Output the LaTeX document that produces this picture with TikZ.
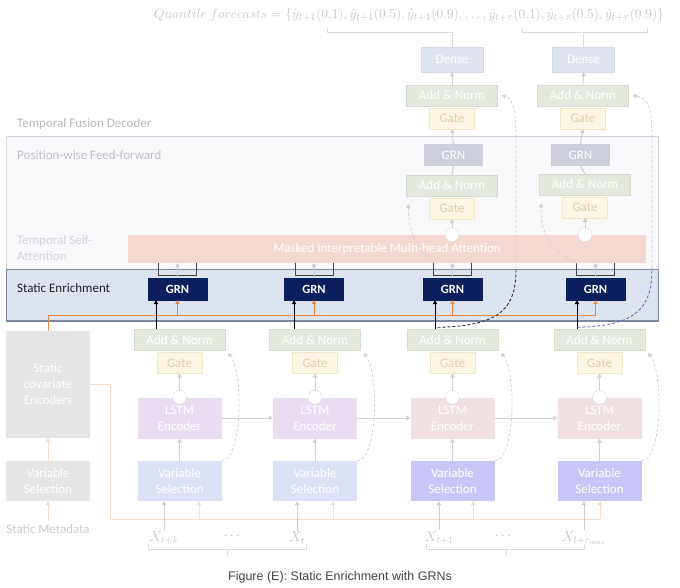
\documentclass[tikz,border=0pt]{standalone}
\usepackage{fontspec}
\setmainfont{Carlito}
\newfontfamily\capfont{Liberation Sans}
\usetikzlibrary{arrows.meta,positioning}

\definecolor{anfill}{HTML}{E4E9E0}
\definecolor{anline}{HTML}{D6DDD0}
\definecolor{gatefill}{HTML}{FDF6E3}
\definecolor{gateline}{HTML}{F1E6C8}
\definecolor{gatetext}{HTML}{E0D0AC}
\definecolor{densefill}{HTML}{DFE4EF}
\definecolor{denseline}{HTML}{D4DAE8}
\definecolor{grnmfill}{HTML}{CDCFDD}
\definecolor{attnfill}{HTML}{F6D8D3}
\definecolor{outerfill}{HTML}{F9F9FC}
\definecolor{outerline}{HTML}{D3D5DD}
\definecolor{bandfill}{HTML}{DEE3F0}
\definecolor{bandline}{HTML}{7D88A3}
\definecolor{navy}{HTML}{0B1F5E}
\definecolor{lstmA}{HTML}{E9DDF1}
\definecolor{lstmB}{HTML}{EFE0E2}
\definecolor{vsA}{HTML}{DCE2F4}
\definecolor{vsB}{HTML}{C8C5F7}
\definecolor{statfill}{HTML}{E5E5E5}
\definecolor{orange}{HTML}{E8894A}
\definecolor{ofaint}{HTML}{F9DCC8}
\definecolor{arrgray}{HTML}{CFCFCF}
\definecolor{dashgray}{HTML}{D2D2D2}
\definecolor{purp}{HTML}{7B68C2}
\definecolor{circline}{HTML}{D9D9D9}
\definecolor{brkline}{HTML}{DADDE8}
\definecolor{formtext}{HTML}{C4C4C4}
\definecolor{xtext}{HTML}{C4C4C4}
\definecolor{captext}{HTML}{444444}

\begin{document}
\begin{tikzpicture}[x=1pt,y=-1pt,font=\fontsize{13}{16}\selectfont,
  box/.style={draw,inner sep=0pt,text=white,align=center},
  addnorm/.style={box,fill=anfill,draw=anline,minimum width=91pt,minimum height=21pt},
  gatebox/.style={box,fill=gatefill,draw=gateline,text=gatetext,minimum width=45pt,minimum height=21pt},
  lstm/.style={box,draw=none,minimum width=84pt,minimum height=41pt},
  varsel/.style={box,draw=none,minimum width=84pt,minimum height=40pt},
  densebox/.style={box,fill=densefill,draw=denseline,minimum width=62pt,minimum height=25pt},
  midgrn/.style={box,fill=grnmfill,draw=none,minimum width=59pt,minimum height=22pt},
  grn/.style={box,fill=navy,draw=navy,font=\fontsize{12.5}{14}\selectfont\bfseries,minimum width=59pt,minimum height=22pt},
  circ/.style={circle,draw=circline,fill=white,minimum size=14pt,inner sep=0pt},
  tag/.style={anchor=west,inner sep=0pt,align=left},
  xlab/.style={text=xtext,inner sep=1pt,font=\fontsize{14}{16}\selectfont},
  arrtip/.style={-{Triangle[length=4pt,width=4.5pt]}},
  garrow/.style={draw=arrgray,line width=0.9pt,arrtip},
  barrow/.style={draw=black,line width=1pt,arrtip},
  oarrow/.style={draw=orange,line width=1pt,arrtip},
  farrow/.style={draw=ofaint,line width=0.9pt,arrtip},
  gdash/.style={draw=dashgray,dash pattern=on 3pt off 2pt,line width=0.8pt},
  brk/.style={draw=brkline,line width=0.8pt}
]
  \fill[white] (0,0) rectangle (680,588);
  \useasboundingbox (0,0) rectangle (680,588);

  % decoder frame and enrichment band
  \filldraw[fill=outerfill,draw=outerline] (6,136) rectangle (658,269);
  \filldraw[fill=bandfill,draw=bandline,line width=0.8pt] (6,269) rectangle (658,321);
  \draw[bandline,line width=2pt] (6,321) -- (658,321);

  \node[tag,text=black!28] (tfd) at (17,124) {Temporal Fusion Decoder};
  \node[tag,text=outerline!90!black] (pff) at (17,155) {Position-wise Feed-forward};
  \node[tag,text=outerline,anchor=north west] (tsa) at (17,235) {Temporal Self-\\Attention};
  \node[tag,text=black!87] (se) at (17,288) {Static Enrichment};

  % quantile outputs
  \node[text=formtext] (quant) at (409,15) {\resizebox{510pt}{!}{$Quantile\ forecasts=\{\hat{y}_{t+1}(0.1),\hat{y}_{t+1}(0.5),\hat{y}_{t+1}(0.9),\ldots,\hat{y}_{t+\tau}(0.1),\hat{y}_{t+\tau}(0.5),\hat{y}_{t+\tau}(0.9)\}$}};

  \node[densebox] (dense3) at (452,59.5) {Dense};
  \node[densebox] (dense4) at (583.5,59.5) {Dense};
  \node[addnorm] (ant3) at (452,95.5) {Add \& Norm};
  \node[addnorm] (ant4) at (583,95.5) {Add \& Norm};
  \node[gatebox,below=1.5pt of ant3] (gatet3) {Gate};
  \node[gatebox,below=1.5pt of ant4] (gatet4) {Gate};
  \node[midgrn] (grnm3) at (453.5,155) {GRN};
  \node[midgrn] (grnm4) at (580.5,155) {GRN};
  \node[addnorm] (anm3) at (452,185.5) {Add \& Norm};
  \node[addnorm] (anm4) at (585,184.5) {Add \& Norm};
  \node[gatebox,below=1.5pt of anm3] (gatel3) {Gate};
  \node[gatebox,below=1.5pt of anm4] (gatel4) {Gate};

  \node[box,fill=attnfill,draw=none,minimum width=518pt,minimum height=28pt] (attn) at (387,249) {Masked Interpretable Multi-head Attention};
  \node[circ] (dc3) at (gatel3.south |- attn.north) {};
  \node[circ] (dc4) at (gatel4.south |- attn.north) {};

  \node[grn] (grn1) at (177.5,289) {GRN};
  \node[grn] (grn2) at (314,289) {GRN};
  \node[grn] (grn3) at (452.5,289) {GRN};
  \node[grn] (grn4) at (595.5,289) {GRN};

  % static side
  \node[box,fill=statfill,draw=none,minimum width=84pt,minimum height=107pt] (sce) at (48,384.5) {Static\\covariate\\Encoders};
  \node[varsel,fill=statfill] (vs0) at (48,481) {Variable\\Selection};
  \node[text=black!20] (meta) at (48,529) {Static Metadata};

  % LSTM encoder / decoder columns
  \foreach \i/\x/\c/\v in {1/179.5/lstmA/vsA,2/315/lstmA/vsA,3/452.5/lstmB/vsB,4/599.5/lstmB/vsB} {
    \node[lstm,fill=\c] (lstm\i) at (\x,418) {LSTM\\Encoder};
    \node[varsel,fill=\v] (vs\i) at (\x,481) {Variable\\Selection};
    \node[addnorm] (an\i) at (\x,340) {Add \& Norm};
    \node[gatebox,below=1.5pt of an\i] (gate\i) {Gate};
    \node[circ] (c\i) at (lstm\i.north) {};
  }

  \node[xlab] (x1) at (164,538) {$X_{t+k}$};
  \node[xlab] (dots1) at (232,536) {$\cdots$};
  \node[xlab] (x2) at (297,538) {$X_t$};
  \node[xlab] (x3) at (439,538) {$X_{t+1}$};
  \node[xlab] (dots2) at (503,536) {$\cdots$};
  \node[xlab] (x4) at (584,538) {$X_{t+\tau_{max}}$};

  \node[font=\capfont\fontsize{12.5}{14}\selectfont,text=captext] (caption) at (340,577) {Figure (E): Static Enrichment with GRNs};

  % braces
  \draw[brk] (327,28) |- (dense3.north |- 0,32) -- (dense3.north);
  \draw[brk] (522,28) |- (647,32) -- (647,28);
  \draw[brk] (dense4.north |- 0,32) -- (dense4.north);
  \draw[brk] (148,544) |- (306,549) -- (306,544);
  \draw[brk] (227,549) -- (227,556);
  \draw[brk] (426,544) |- (584,549) -- (584,544);
  \draw[brk] (506,549) -- (506,556);

  % static context paths
  \draw[farrow] (meta.north) -- (vs0.south);
  \draw[farrow] (vs0.north) -- (sce.south);
  \draw[ofaint,line width=0.9pt] (sce.east) -| (110,519) -- (600,519);
  \foreach \i/\xo in {1/199,2/333,3/473,4/600}
    \draw[farrow] (\xo,519) -- (vs\i.south -| \xo,0);
  \draw[orange,line width=1pt] (sce.north) |- (grn4.south |- 0,315);
  \foreach \i in {1,2,3,4}
    \draw[oarrow] (grn\i.south |- 0,315) -- (grn\i.south);

  % encoder flow
  \foreach \i in {1,2,3,4} {
    \draw[garrow] (x\i.north) -- (x\i.north |- vs\i.south);
    \draw[garrow] (vs\i.north) -- (lstm\i.south);
    \draw[garrow] (c\i.north) -- (gate\i.south);
    \draw[gdash,arrtip] (vs\i.north east) .. controls +(20,0) and +(16,22) .. ([xshift=3pt,yshift=-2pt]an\i.south east);
  }
  \draw[garrow] (lstm1.east) -- (lstm2.west);
  \draw[garrow] (lstm2.east) -- (lstm3.west);
  \draw[garrow] (lstm3.east) -- (lstm4.west);

  % enrichment GRNs
  \foreach \i/\s in {1/-21.5,2/-20,3/-17.5,4/-18.5} {
    \draw[barrow] ([xshift=\s pt]grn\i.south |- an\i.north) -- ([xshift=\s pt]grn\i.south);
    \draw[black!75,line width=0.8pt] ([xshift=-19pt]grn\i.north |- attn.south) -- ++(0,12) -| ([xshift=19pt]grn\i.north |- attn.south);
    \draw[garrow] (grn\i.north) -- (grn\i.north |- attn.south);
  }

  % decoder columns
  \foreach \i in {3,4} {
    \draw[garrow] (dc\i.north) -- (gatel\i.south);
    \draw[arrgray,line width=0.9pt] (anm\i.north) -- (grnm\i.south);
    \draw[garrow] (grnm\i.north) -- (gatet\i.south);
    \draw[garrow] (ant\i.north) -- (dense\i.south);
  }
  \draw[gdash,arrtip] ([xshift=-19pt]grn3.north |- attn.south) .. controls (420,250) and (408,235) .. ([xshift=2pt,yshift=-8pt]anm3.south west);
  \draw[gdash,arrtip] ([xshift=-19pt]grn4.north |- attn.south) .. controls (552,250) and (540,235) .. ([xshift=2pt,yshift=-8pt]anm4.south west);

  % skip connections past the attention
  \coordinate (bend3) at (516,268);
  \coordinate (bend4) at (652,268);
  \draw[black!80,dash pattern=on 3pt off 2pt,line width=0.9pt] ([xshift=-15pt,yshift=2pt]an3.north) .. controls (505,326) and (516,305) .. (bend3);
  \draw[gdash,arrtip] (bend3) -- (516,135) .. controls (516,108) and (512,98) .. ([xshift=4pt]ant3.east);
  \draw[purp,dash pattern=on 3pt off 2pt,line width=0.9pt] ([xshift=-22pt,yshift=2pt]an4.north) .. controls (640,326) and (652,305) .. (bend4);
  \draw[gdash,arrtip] (bend4) -- (652,135) .. controls (652,108) and (648,98) .. ([xshift=4pt]ant4.east);
\end{tikzpicture}
\end{document}
